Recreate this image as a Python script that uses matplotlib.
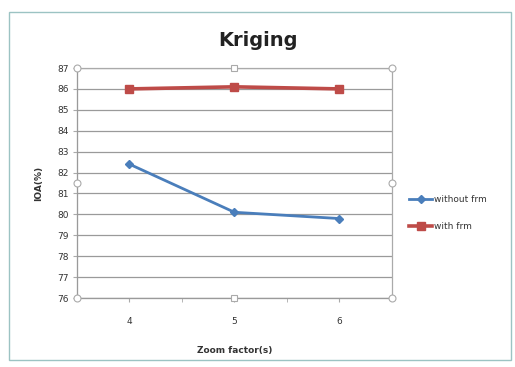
import matplotlib
matplotlib.use("Agg")
import matplotlib.pyplot as plt
from matplotlib.patches import Rectangle

categories = ["4", "5", "6"]
without_frm = [82.4, 80.1, 79.8]
with_frm = [86.0, 86.1, 86.0]
yticks = list(range(76, 88))

fig = plt.figure(figsize=(5.15, 3.67), dpi=100)
fig.patch.set_facecolor("white")
ax = fig.add_axes([0.1495, 0.188, 0.6115, 0.6267])

x = list(range(len(categories)))
ax.plot(x, without_frm, color="#4a7ebb", lw=2, marker="D", ms=4, label="without frm")
ax.plot(x, with_frm, color="#be4b48", lw=2.6, marker="s", ms=6, label="with frm")

ax.set_xlim(-0.5, len(categories) - 0.5)
ax.set_ylim(76, 87)
ax.set_yticks(yticks)
ax.set_yticklabels([str(t) for t in yticks], fontsize=6.5, color="#333333")
ax.set_xticks(x)
ax.set_xticklabels(categories, fontsize=6.5, color="#333333")
ax.set_xticks([0.5, 1.5], minor=True)
ax.tick_params(axis="x", which="both", length=3, color="#aaaaaa", pad=11)
ax.tick_params(axis="y", length=3, color="#aaaaaa", pad=3)
ax.grid(axis="y", color="#9a9a9a", lw=0.9)
ax.set_axisbelow(True)
for s in ["top", "right"]:
    ax.spines[s].set_visible(False)
ax.spines["left"].set_color("#9a9a9a")
ax.spines["bottom"].set_color("#9a9a9a")

ax.set_xlabel("Zoom factor(s)", fontsize=6.5, fontweight="bold", color="#333333", labelpad=14)
ax.set_ylabel("IOA(%)", fontsize=6.5, fontweight="bold", color="#333333", labelpad=10)
fig.text(0.5, 0.89, "Kriging", ha="center", va="center", fontsize=14, fontweight="bold", color="#222222")

# plot-area frame (selection outline)
ax.add_patch(Rectangle((0, 0), 1, 1, transform=ax.transAxes, fill=False, ec="#aaaaaa", lw=0.9, clip_on=False))
for (hx, hy, m) in [(0, 0, "o"), (0.5, 0, "s"), (1, 0, "o"), (0, 0.5, "o"), (1, 0.5, "o"),
                    (0, 1, "o"), (0.5, 1, "s"), (1, 1, "o")]:
    ax.plot([hx], [hy], marker=m, ms=5, mfc="white", mec="#aaaaaa", mew=0.8,
            transform=ax.transAxes, clip_on=False, zorder=5)

leg = ax.legend(loc="center left", bbox_to_anchor=(1.03, 0.37), frameon=False,
                fontsize=6.5, handlelength=2.5, labelspacing=2.0, handletextpad=0.2)
for t in leg.get_texts():
    t.set_color("#333333")

# outer chart border
fig.add_artist(Rectangle((0.018, 0.02), 0.975, 0.948, transform=fig.transFigure, fill=False,
                         ec="#9cc3c3", lw=1.0))

fig.savefig("out.png", dpi=100)
